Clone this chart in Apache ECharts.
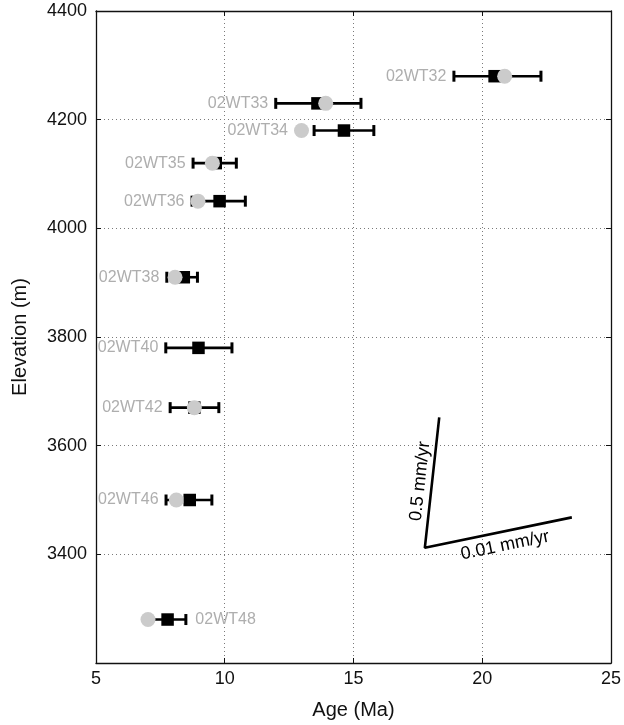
<!DOCTYPE html>
<html><head><meta charset="utf-8">
<script src="https://cdn.jsdelivr.net/npm/echarts@6/dist/echarts.min.js"></script>
<style>html,body{margin:0;padding:0;background:#fff}#c{width:624px;height:725px}</style>
</head><body><div id="c"></div>
<script>
// ---- data ----
const samples   = ['02WT32','02WT33','02WT34','02WT35','02WT36','02WT38','02WT40','02WT42','02WT46','02WT48'];
const elevation = [4280, 4230, 4180, 4120, 4050, 3910, 3780, 3670, 3500, 3280];
const circleAge = [20.87, 13.92, 12.98, 9.52, 8.96, 8.07, null, 8.82, 8.12, 7.02];
const squareAge = [20.48, 13.60, 14.63, 9.65, 9.80, 8.41, 8.98, 8.82, 8.64, 7.78];
const errLow    = [18.90, 11.98, 13.47, 8.77, 8.73, 7.75, 7.71, 7.88, 7.72, 7.07];
const errHigh   = [22.28, 15.29, 15.79, 10.45, 10.80, 8.94, 10.28, 9.77, 9.50, 8.49];
const labelRight = ['02WT48'];
// rate reference lines (top of 0.5 mm/yr, common vertex, end of 0.01 mm/yr)
const rateLineX = [18.33, 17.77, 23.48];
const rateLineY = [3652, 3412, 3468];
const rateLabels = ['0.5 mm/yr', '0.01 mm/yr'];
const xTicks = {min: 5, max: 25, step: 5};
const yTicks = {min: 3200, max: 4400, step: 200};

const FONT = '"Liberation Sans", Arial, Helvetica, sans-serif';
const INK = '#111';
const chart = echarts.init(document.getElementById('c'), null, {renderer: 'canvas'});

function xAxisDef(primary) {
  return {
    type: 'value', min: xTicks.min, max: xTicks.max, interval: xTicks.step,
    position: primary ? 'bottom' : 'top',
    name: primary ? 'Age (Ma)' : '', nameLocation: 'middle', nameGap: 37,
    nameTextStyle: {fontSize: 20, color: INK, fontFamily: FONT},
    axisLine: {show: true, onZero: false, lineStyle: {color: INK, width: 1.3}},
    axisTick: {show: true, inside: true, length: 5, lineStyle: {color: INK, width: 1}},
    axisLabel: {show: primary, fontSize: 18, color: INK, fontFamily: FONT, margin: 7,
                showMinLabel: true, showMaxLabel: true},
    splitLine: {show: primary, lineStyle: {color: '#7a7a7a', type: [1, 3], width: 1}}
  };
}
function yAxisDef(primary) {
  return {
    type: 'value', min: yTicks.min, max: yTicks.max, interval: yTicks.step,
    position: primary ? 'left' : 'right',
    name: primary ? 'Elevation (m)' : '', nameLocation: 'middle', nameGap: 66, nameRotate: 90,
    nameTextStyle: {fontSize: 20, color: INK, fontFamily: FONT},
    axisLine: {show: true, onZero: false, lineStyle: {color: INK, width: 1.3}},
    axisTick: {show: true, inside: true, length: 5, lineStyle: {color: INK, width: 1}},
    axisLabel: {show: primary, fontSize: 18, color: INK, fontFamily: FONT, margin: 9,
                showMinLabel: true, showMaxLabel: true,
                formatter: v => (v === yTicks.min ? '' : String(v))},
    splitLine: {show: primary, lineStyle: {color: '#7a7a7a', type: [1, 3], width: 1}}
  };
}

const R = 7.5; // circle radius px
const option = {
  animation: false,
  grid: {left: 96, right: 13, top: 11, bottom: 58},
  xAxis: [xAxisDef(true), xAxisDef(false)],
  yAxis: [yAxisDef(true), yAxisDef(false)],
  series: [
    { // error bars
      type: 'custom', z: 2, silent: true,
      data: samples.map((s, i) => [errLow[i], errHigh[i], elevation[i]]),
      encode: {x: [0, 1], y: 2},
      renderItem: (p, api) => {
        const lo = api.coord([api.value(0), api.value(2)]);
        const hi = api.coord([api.value(1), api.value(2)]);
        const h = 5.5;
        return {type: 'group', children: [
          {type: 'line', shape: {x1: lo[0], y1: lo[1], x2: hi[0], y2: hi[1]}, style: {stroke: '#000', lineWidth: 2.6}},
          {type: 'line', shape: {x1: lo[0], y1: lo[1] - h, x2: lo[0], y2: lo[1] + h}, style: {stroke: '#000', lineWidth: 3}},
          {type: 'line', shape: {x1: hi[0], y1: hi[1] - h, x2: hi[0], y2: hi[1] + h}, style: {stroke: '#000', lineWidth: 3}}
        ]};
      }
    },
    { // squares
      type: 'scatter', z: 3, silent: true, symbol: 'rect', symbolSize: 12.5,
      itemStyle: {color: '#000', opacity: 1},
      data: squareAge.map((a, i) => [a, elevation[i]])
    },
    { // circles
      type: 'scatter', z: 4, silent: true, symbol: 'circle', symbolSize: 2 * R,
      itemStyle: {color: '#cbcbcb', opacity: 1},
      data: circleAge.map((a, i) => [a, elevation[i]]).filter(d => d[0] != null)
    },
    { // sample labels
      type: 'custom', z: 5, silent: true,
      data: samples.map((s, i) => [errLow[i], elevation[i]]),
      renderItem: (p, api) => {
        const i = p.dataIndex, y = elevation[i];
        const lo = api.coord([errLow[i], y]);
        const hi = api.coord([errHigh[i], y]);
        let left = lo[0] - 1.5, right = hi[0] + 1.5;
        if (circleAge[i] != null) {
          const c = api.coord([circleAge[i], y]);
          left = Math.min(left, c[0] - R); right = Math.max(right, c[0] + R);
        }
        const onRight = labelRight.includes(samples[i]);
        const GAP = 6;
        return {type: 'text', x: onRight ? right + GAP + 2 : left - GAP, y: lo[1],
          style: {text: samples[i], fill: '#aeaeae', font: '16px ' + FONT,
                  textAlign: onRight ? 'left' : 'right', textVerticalAlign: 'middle',
                  align: onRight ? 'left' : 'right', verticalAlign: 'middle'}};
      }
    },
    { // rate lines
      type: 'line', z: 6, silent: true, symbol: 'none',
      lineStyle: {color: '#000', width: 2.6},
      data: rateLineX.map((x, i) => [x, rateLineY[i]])
    },
    { // rate labels
      type: 'custom', z: 6, silent: true,
      data: rateLabels.map((t, i) => [rateLineX[i === 0 ? 0 : 2], rateLineY[i === 0 ? 0 : 2]]),
      renderItem: (p, api) => {
        const i = p.dataIndex;
        const v = api.coord([rateLineX[1], rateLineY[1]]);
        const e = api.coord([i === 0 ? rateLineX[0] : rateLineX[2], i === 0 ? rateLineY[0] : rateLineY[2]]);
        const dx = e[0] - v[0], dy = e[1] - v[1];
        const L = Math.hypot(dx, dy), ux = dx / L, uy = dy / L;
        const px = uy, py = -ux; // perpendicular
        const off = i === 0 ? 12 : -14;
        const along = i === 0 ? 0 : 4;
        const cx = (v[0] + e[0]) / 2 + px * off + ux * along;
        const cy = (v[1] + e[1]) / 2 + py * off + uy * along;
        return {type: 'text', x: cx, y: cy, rotation: Math.atan2(-dy, dx),
          style: {text: rateLabels[i], fill: '#000', font: '18px ' + FONT,
                  textAlign: 'center', textVerticalAlign: 'middle',
                  align: 'center', verticalAlign: 'middle'}};
      }
    }
  ]
};
chart.setOption(option);
</script></body></html>
